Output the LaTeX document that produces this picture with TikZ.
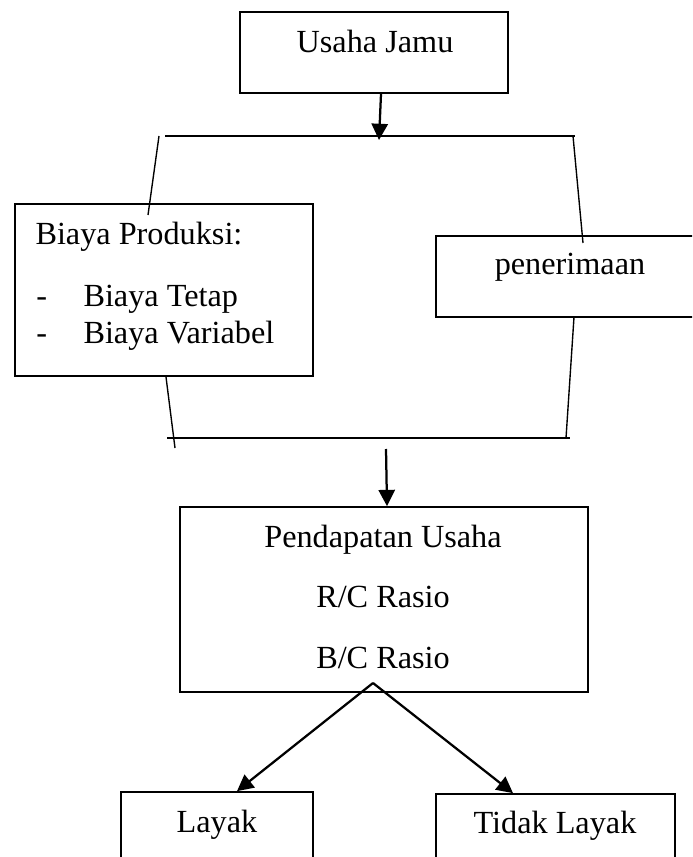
\documentclass[tikz,border=0pt]{standalone}
\usepackage{fontspec}
\setmainfont{Liberation Serif}
\usetikzlibrary{arrows.meta,positioning}
\tikzset{
  box/.style={draw,line width=0.7pt,inner sep=0pt},
  txt/.style={inner sep=0pt,anchor=base},
  arr/.style={line width=0.9pt,-{Triangle[length=6.5pt,width=6.5pt]}},
  rail/.style={line width=0.9pt},
  leg/.style={line width=0.55pt},
}
\begin{document}
\begin{tikzpicture}[x=0.4pt,y=-0.4pt,font=\fontsize{12.9pt}{15pt}\selectfont]
\useasboundingbox (0,0) rectangle (692,857);
\clip (0,0) rectangle (692,857);

% boxes
\node[box,minimum width=107.2pt,minimum height=32.4pt] (jamu) at (374,52.5) {};
\node[box,minimum width=119.2pt,minimum height=68.8pt] (biaya) at (164,290) {};
\node[box,minimum width=113.6pt,minimum height=32.4pt] (terima) at (578,276.5) {};
\node[box,minimum width=163.2pt,minimum height=74pt] (pendapatan) at (384,599.5) {};
\node[box,minimum width=76.8pt,minimum height=35.2pt] (layak) at (217,836) {};
\node[box,minimum width=95.6pt,minimum height=35.2pt] (tidak) at (555.5,838) {};

% texts
\node[txt] (tjamu) at (375,53) {Usaha Jamu};
\node[txt,anchor=base west] (tbiaya) at (35,245) {Biaya Produksi:};
\node[txt,anchor=base west] (dash1) at (36,307) {-};
\node[txt,anchor=base west] (tetap) at (83,307) {Biaya Tetap};
\node[txt,anchor=base west] (dash2) at (36,344) {-};
\node[txt,anchor=base west] (variabel) at (83,344) {Biaya Variabel};
\node[txt] (tterima) at (570,275) {penerimaan};
\node[txt] (tpendapatan) at (383,547) {Pendapatan Usaha};
\node[txt] (trc) at (383,607) {R/C Rasio};
\node[txt] (tbc) at (383,668) {B/C Rasio};
\node[txt] (tlayak) at (217,832) {Layak};
\node[txt] (ttidak) at (555,833) {Tidak Layak};

% upper bracket
\coordinate (topL) at (165,136);
\coordinate (topR) at (575,136);
\coordinate (topIn) at (379,140);
\draw[rail] (topL) -- (topR);
\draw[arr] ([xshift=2.8pt]jamu.south) -- (topIn);
\coordinate (ulA) at (159,136);
\coordinate (ulB) at (148,215);
\coordinate (urA) at (573,136);
\coordinate (urB) at (583,243);
\draw[leg] (ulA) -- (ulB);
\draw[leg] (urA) -- (urB);

% lower bracket
\coordinate (botL) at (167,438);
\coordinate (botR) at (570,438);
\coordinate (llA) at (166,377);
\coordinate (llB) at (175,448);
\coordinate (lrA) at (574,317);
\coordinate (lrB) at (566,438);
\draw[rail] (botL) -- (botR);
\draw[leg] (llA) -- (llB);
\draw[leg] (lrA) -- (lrB);
\coordinate (botOut) at (386,449);
\draw[arr] (botOut) -- ([xshift=1.2pt]pendapatan.north);

% outcome
\coordinate (split) at (373,683);
\draw[arr] (split) -- ([xshift=8pt]layak.north);
\draw[arr] (split) -- ([xshift=-17pt]tidak.north);
\end{tikzpicture}
\end{document}
